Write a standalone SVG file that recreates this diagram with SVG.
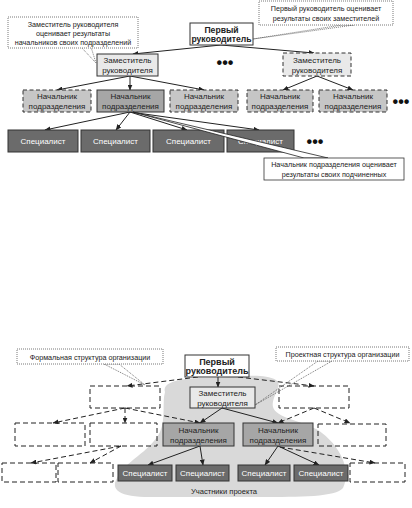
<svg xmlns="http://www.w3.org/2000/svg" width="412" height="508" viewBox="0 0 412 508">
<style>
text{font-family:"Liberation Sans",Arial,sans-serif;fill:#222;text-anchor:middle}
.t8{font-size:8px}
.t7{font-size:7.2px}
.b{font-weight:bold;font-size:8.6px}
.w{fill:#fff}
.box{stroke:#333;stroke-width:1}
.dash{stroke:#333;stroke-width:1;stroke-dasharray:4,2.5}
.dash2{stroke:#222;stroke-width:1;stroke-dasharray:5,3}
.zam{fill:#e9e9e9}
.nach{fill:#a6a6a6}
.nachd{fill:#c6c6c6}
.spec{fill:#6b6b6b}
.call{fill:#fff;stroke:#555;stroke-width:0.8;stroke-dasharray:1,1}
.ln{stroke:#222;stroke-width:1;fill:none}
.dl{stroke:#222;stroke-width:1;fill:none;stroke-dasharray:5,3}
.dot{stroke:#555;stroke-width:0.8;fill:none;stroke-dasharray:1,1}
.dots{font-size:16px;font-weight:bold;fill:#111}
</style>
<defs>
<marker id="ar" markerWidth="6" markerHeight="5" refX="5.5" refY="2.5" orient="auto" markerUnits="userSpaceOnUse">
<path d="M0,0 L6,2.5 L0,5 Z" fill="#222"/>
</marker>
</defs>

<!-- ===== TOP DIAGRAM ===== -->
<g id="connectors-top">
<line class="ln" x1="221" y1="45" x2="133" y2="54" marker-end="url(#ar)"/>
<line class="ln" x1="221" y1="45" x2="314" y2="53" marker-end="url(#ar)"/>
<line class="ln" x1="130" y1="76" x2="57" y2="90" marker-end="url(#ar)"/>
<line class="ln" x1="130" y1="76" x2="130" y2="90" marker-end="url(#ar)"/>
<line class="ln" x1="130" y1="76" x2="204" y2="90" marker-end="url(#ar)"/>
<line class="ln" x1="317" y1="76" x2="283" y2="90" marker-end="url(#ar)"/>
<line class="ln" x1="317" y1="76" x2="353" y2="90" marker-end="url(#ar)"/>
<line class="ln" x1="130" y1="112" x2="45" y2="130" marker-end="url(#ar)"/>
<line class="ln" x1="130" y1="112" x2="116" y2="130" marker-end="url(#ar)"/>
<line class="ln" x1="130" y1="112" x2="187" y2="130" marker-end="url(#ar)"/>
<line class="ln" x1="130" y1="112" x2="259" y2="130" marker-end="url(#ar)"/>
</g>

<g id="callout1">
<polygon points="81,47 96,63 91,47" fill="#fff" class="dot"/>
<rect x="8" y="17" width="130" height="31" class="call"/>
<text class="t7" x="73" y="27">Заместитель руководителя</text>
<text class="t7" x="73" y="36">оценивает результаты</text>
<text class="t7" x="73" y="45">начальников своих подразделений</text>
</g>

<g id="callout2">
<polygon points="342,25 253,39 354,25" fill="#fff" class="dot"/>
<rect x="259" y="1" width="134" height="24" class="call"/>
<text class="t7" x="326" y="11">Первый руководитель оценивает</text>
<text class="t7" x="326" y="21">результаты своих заместителей</text>
</g>

<g id="first-top">
<rect x="190" y="23" width="63" height="22" fill="#fff" class="box"/>
<text class="b" x="221.5" y="32.5">Первый</text>
<text class="b" x="221.5" y="42">руководитель</text>
</g>

<g id="zam-top-left">
<rect x="97" y="54" width="61" height="22" class="zam box"/>
<text class="t8" x="127.5" y="63">Заместитель</text>
<text class="t8" x="127.5" y="73">руководителя</text>
</g>

<text class="dots" x="225" y="68">•••</text>

<g id="zam-top-right">
<rect x="283" y="53" width="68" height="23" class="zam dash"/>
<text class="t8" x="317" y="62.5">Заместитель</text>
<text class="t8" x="317" y="72.5">руководителя</text>
</g>

<g id="nach-top-1">
<rect x="23" y="90" width="68" height="22" class="nachd dash"/>
<text class="t8" x="57" y="99">Начальник</text>
<text class="t8" x="57" y="109">подразделения</text>
</g>
<g id="nach-top-2">
<rect x="97" y="90" width="67" height="22" class="nach box"/>
<text class="t8" x="130.5" y="99">Начальник</text>
<text class="t8" x="130.5" y="109">подразделения</text>
</g>
<g id="nach-top-3">
<rect x="170" y="90" width="68" height="22" class="nachd dash"/>
<text class="t8" x="204" y="99">Начальник</text>
<text class="t8" x="204" y="109">подразделения</text>
</g>
<g id="nach-top-4">
<rect x="247" y="90" width="66" height="22" class="nachd dash"/>
<text class="t8" x="280" y="99">Начальник</text>
<text class="t8" x="280" y="109">подразделения</text>
</g>
<g id="nach-top-5">
<rect x="319" y="90" width="68" height="22" class="nachd dash"/>
<text class="t8" x="353" y="99">Начальник</text>
<text class="t8" x="353" y="109">подразделения</text>
</g>
<text class="dots" x="401" y="107">•••</text>

<g id="spec-top-1">
<rect x="8" y="130" width="70" height="22" class="spec box"/>
<text class="t8 w" x="43" y="144">Специалист</text>
</g>
<g id="spec-top-2">
<rect x="81" y="130" width="69" height="22" class="spec box"/>
<text class="t8 w" x="115.5" y="144">Специалист</text>
</g>
<g id="spec-top-3">
<rect x="153" y="130" width="71" height="22" class="spec box"/>
<text class="t8 w" x="188.5" y="144">Специалист</text>
</g>
<g id="spec-top-4">
<rect x="227" y="130" width="67" height="22" class="spec box"/>
<text class="t8 w" x="260.5" y="144">Специалист</text>
</g>
<text class="dots" x="315" y="147">•••</text>

<g id="callout3">
<polygon points="133,112 304,158 328,158" fill="#fff" stroke="#222" stroke-width="0.8"/>
<rect x="264" y="158" width="140" height="22" fill="#fff" stroke="#333" stroke-width="0.8"/>
<text class="t7" x="334" y="167">Начальник подразделения оценивает</text>
<text class="t7" x="334" y="177">результаты своих подчиненных</text>
</g>

<!-- ===== BOTTOM DIAGRAM ===== -->
<path id="cloud" d="M165,392 C162,382 180,378 205,378 C235,378 262,372 276,380 C284,386 271,396 273,407 C276,418 300,420 318,430 C340,445 352,470 343,488 C336,497 300,497 260,497 L150,497 C120,497 110,490 117,478 C124,462 150,452 160,432 C166,418 162,402 165,392 Z" fill="#d9d9d9"/>

<g id="connectors-bottom">
<line class="ln" x1="218" y1="377" x2="218" y2="387" marker-end="url(#ar)"/>
<line class="dl" x1="198" y1="377" x2="127" y2="386" marker-end="url(#ar)"/>
<line class="dl" x1="238" y1="377" x2="314" y2="386" marker-end="url(#ar)"/>
<line class="ln" x1="222" y1="408" x2="200" y2="423" marker-end="url(#ar)"/>
<line class="ln" x1="222" y1="408" x2="278" y2="423" marker-end="url(#ar)"/>
<line class="dl" x1="125" y1="408" x2="53" y2="423" marker-end="url(#ar)"/>
<line class="dl" x1="125" y1="408" x2="125" y2="423" marker-end="url(#ar)"/>
<line class="dl" x1="125" y1="408" x2="200" y2="423" marker-end="url(#ar)"/>
<line class="dl" x1="314" y1="408" x2="278" y2="423" marker-end="url(#ar)"/>
<line class="dl" x1="314" y1="408" x2="350" y2="423" marker-end="url(#ar)"/>
<line class="dl" x1="121" y1="446" x2="31" y2="463" marker-end="url(#ar)"/>
<line class="dl" x1="121" y1="446" x2="90" y2="463" marker-end="url(#ar)"/>
<line class="ln" x1="200" y1="446" x2="148" y2="465" marker-end="url(#ar)"/>
<line class="ln" x1="200" y1="446" x2="203" y2="465" marker-end="url(#ar)"/>
<line class="ln" x1="278" y1="446" x2="265" y2="465" marker-end="url(#ar)"/>
<line class="ln" x1="278" y1="446" x2="319" y2="465" marker-end="url(#ar)"/>
<line class="dl" x1="280" y1="447" x2="375" y2="463" marker-end="url(#ar)"/>
</g>

<g id="formal-label">
<polygon points="104,364 145,385 119,364" fill="none" class="dot"/>
<rect x="17" y="349" width="146" height="15" class="call"/>
<text class="t7" x="90" y="359.5">Формальная структура организации</text>
</g>

<g id="project-label">
<polygon points="318,361 255,405 332,361" fill="none" class="dot"/>
<rect x="276" y="347" width="133" height="14" class="call"/>
<text class="t7" x="342.5" y="357">Проектная структура организации</text>
</g>

<g id="first-bottom">
<rect x="185" y="355" width="64" height="22" fill="#fff" class="box"/>
<text class="b" x="217" y="364.5" style="font-size:9px">Первый</text>
<text class="b" x="217" y="374" style="font-size:9px">руководитель</text>
</g>

<g id="zam-bottom">
<rect x="190" y="387" width="65" height="21" class="zam box"/>
<text class="t8" x="222.5" y="396">Заместитель</text>
<text class="t8" x="222.5" y="405.5">руководителя</text>
</g>
<g id="zam-formal-left"><rect x="90" y="386" width="70" height="22" fill="none" class="dash2"/></g>
<g id="zam-formal-right"><rect x="279" y="386" width="70" height="22" fill="none" class="dash2"/></g>

<g id="nach-bottom-1">
<rect x="163" y="423" width="71" height="23" class="nach box"/>
<text class="t8" x="198.5" y="432.5">Начальник</text>
<text class="t8" x="198.5" y="442.5">подразделения</text>
</g>
<g id="nach-bottom-2">
<rect x="243" y="423" width="70" height="23" class="nach box"/>
<text class="t8" x="278" y="432.5">Начальник</text>
<text class="t8" x="278" y="442.5">подразделения</text>
</g>
<g id="nach-formal-1"><rect x="15" y="423" width="70" height="23" fill="none" class="dash2"/></g>
<g id="nach-formal-2"><rect x="90" y="423" width="67" height="23" fill="none" class="dash2"/></g>
<g id="nach-formal-3"><rect x="318" y="424" width="68" height="22" fill="none" class="dash2"/></g>

<g id="spec-bottom-1">
<rect x="118" y="465" width="54" height="16" class="spec box"/>
<text class="t8 w" x="145" y="476">Специалист</text>
</g>
<g id="spec-bottom-2">
<rect x="176" y="465" width="53" height="16" class="spec box"/>
<text class="t8 w" x="202.5" y="476">Специалист</text>
</g>
<g id="spec-bottom-3">
<rect x="238" y="465" width="52" height="16" class="spec box"/>
<text class="t8 w" x="264" y="476">Специалист</text>
</g>
<g id="spec-bottom-4">
<rect x="294" y="465" width="54" height="16" class="spec box"/>
<text class="t8 w" x="321" y="476">Специалист</text>
</g>
<g id="spec-formal-1"><rect x="2" y="463" width="54" height="19" fill="none" class="dash2"/></g>
<g id="spec-formal-2"><rect x="58" y="463" width="55" height="19" fill="none" class="dash2"/></g>
<g id="spec-formal-3"><rect x="350" y="463" width="55" height="19" fill="none" class="dash2"/></g>

<text class="t7" x="224" y="494" style="font-size:7.6px">Участники проекта</text>
</svg>
